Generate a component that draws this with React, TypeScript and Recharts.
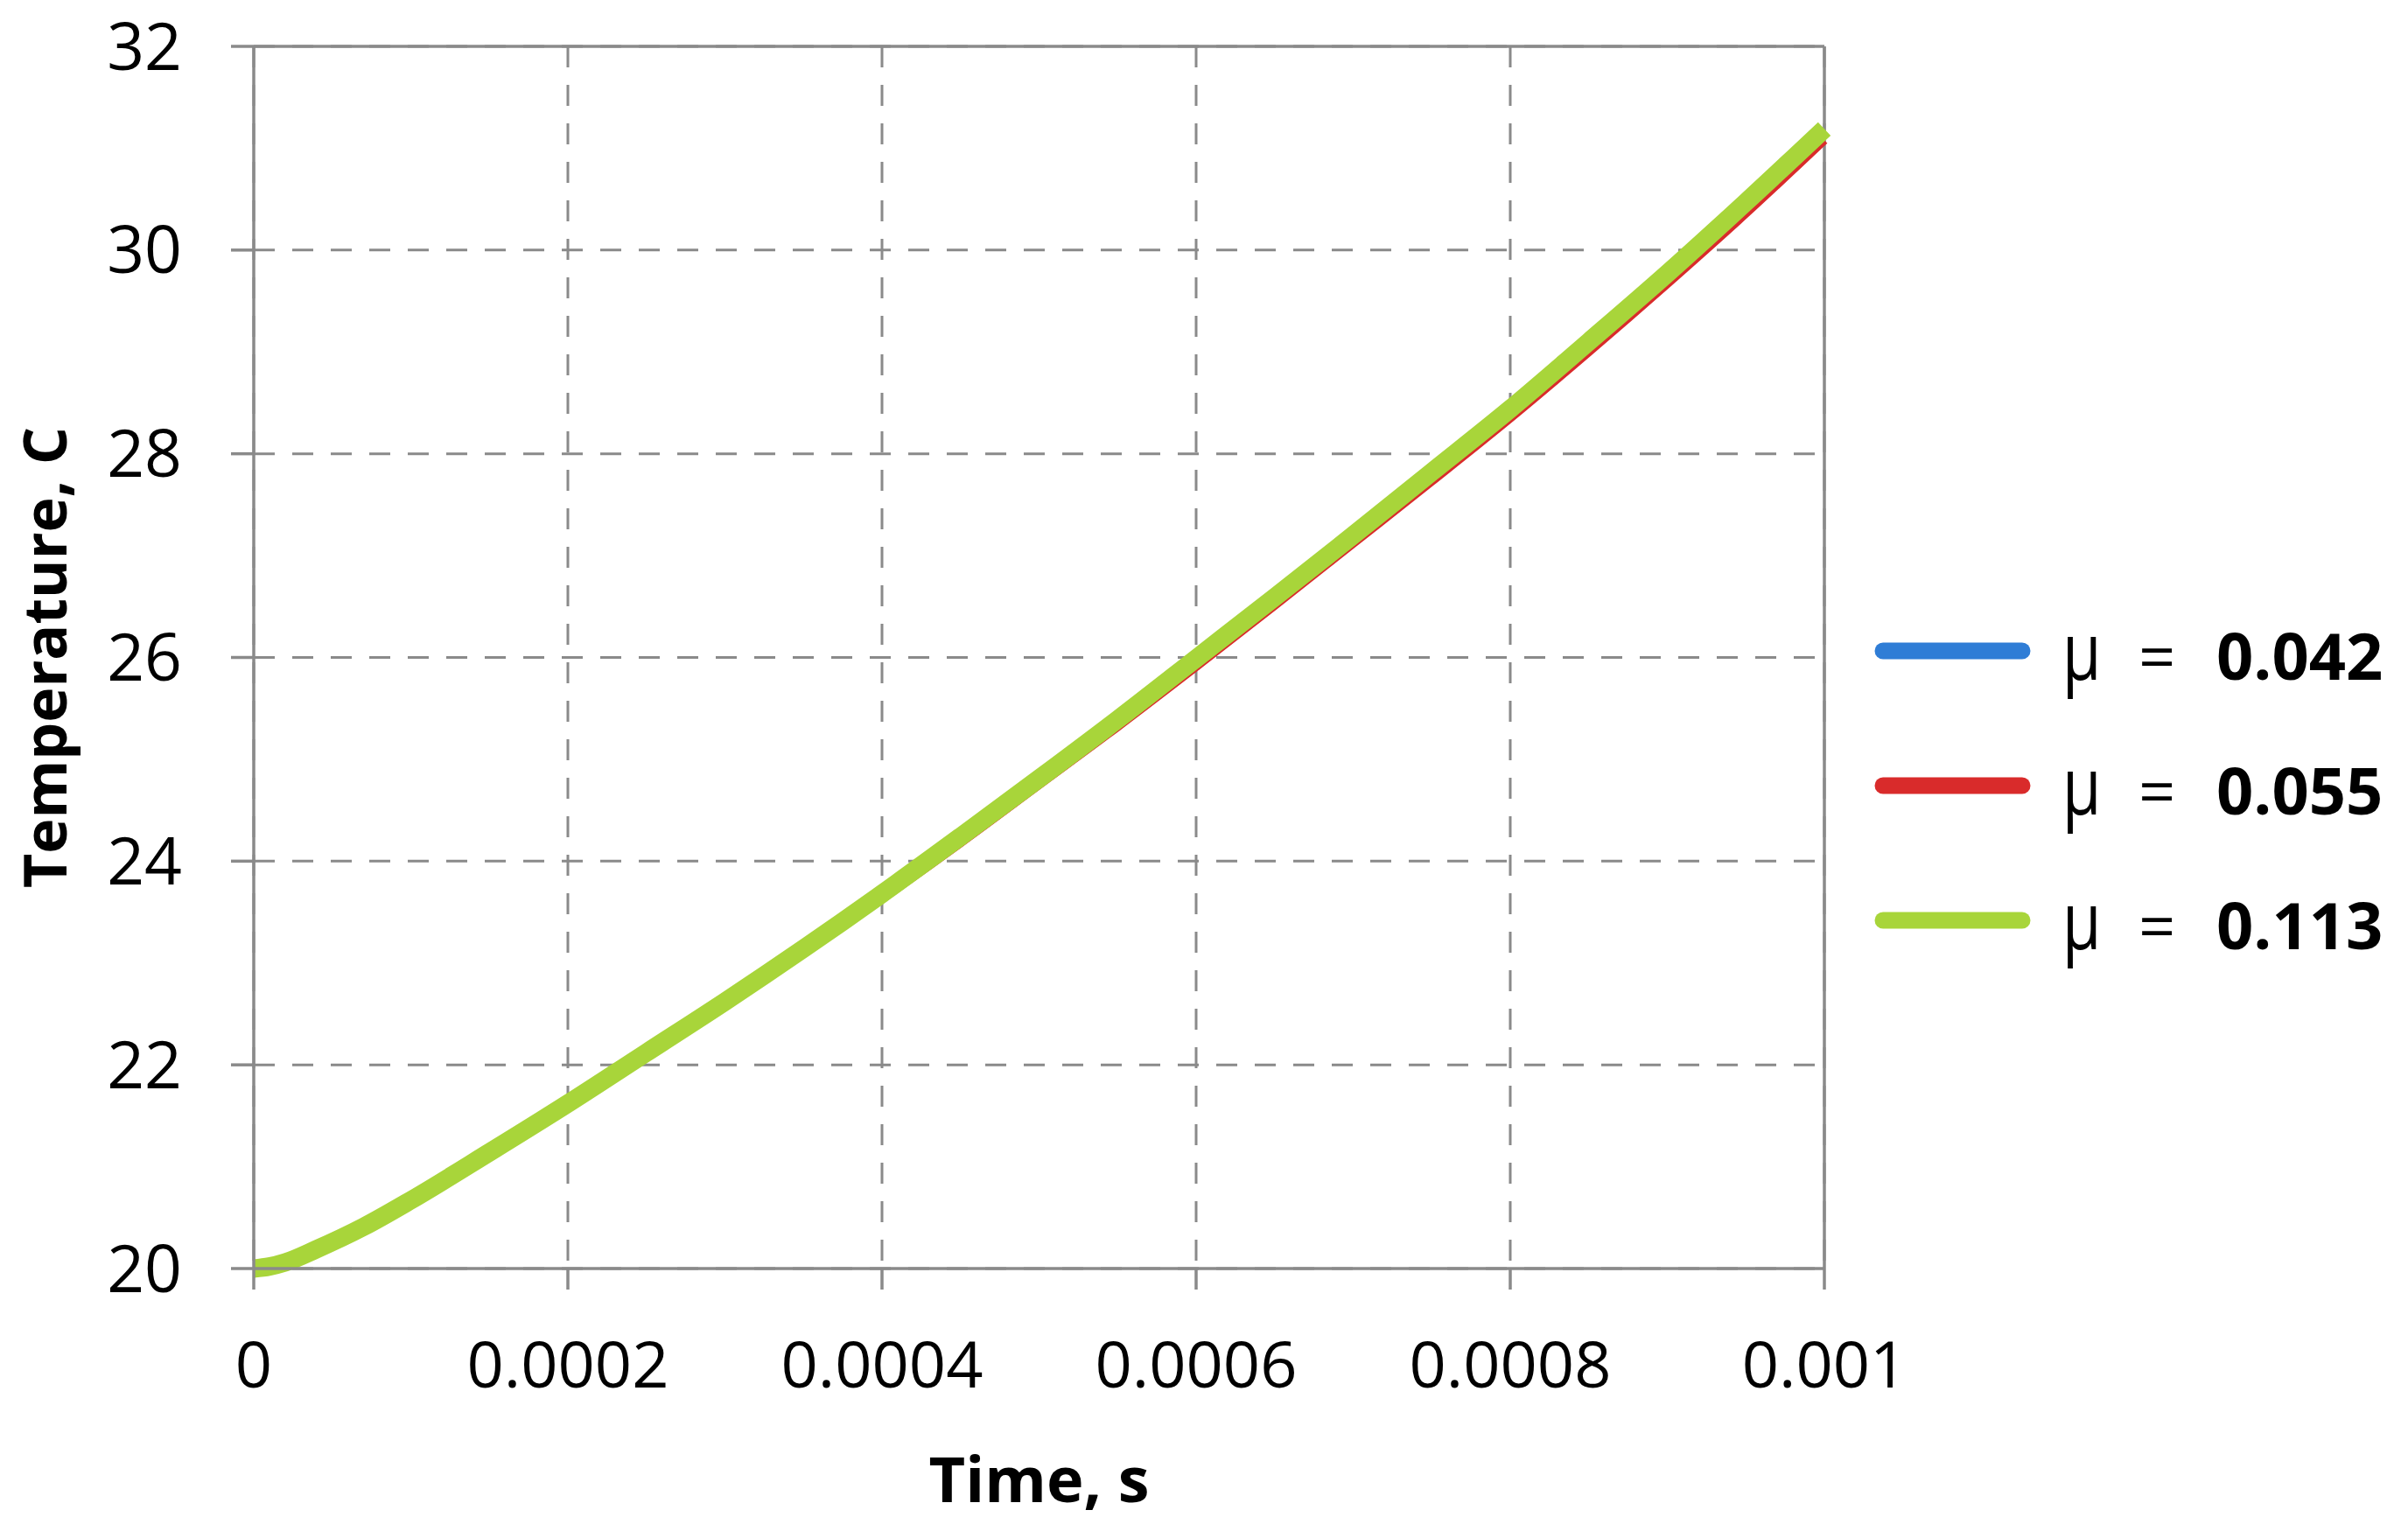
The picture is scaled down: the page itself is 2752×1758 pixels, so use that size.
import {
  CartesianGrid,
  Legend,
  Line,
  LineChart,
  ReferenceLine,
  XAxis,
  YAxis,
} from "recharts";

// time, s
const time = [
  0, 0.00001, 0.00002, 0.00004, 0.00007, 0.0001, 0.00015, 0.0002, 0.00025,
  0.0003, 0.00035, 0.0004, 0.00045, 0.0005, 0.00055, 0.0006, 0.00065, 0.0007,
  0.00075, 0.0008, 0.00085, 0.0009, 0.00095, 0.001,
];

// temperature, C for each friction coefficient
const tempMu042 = [
  20.0, 20.02, 20.06, 20.19, 20.41, 20.67, 21.14, 21.62, 22.11, 22.61, 23.12,
  23.66, 24.21, 24.78, 25.36, 25.95, 26.55, 27.16, 27.78, 28.4, 29.05, 29.72,
  30.42, 31.14,
];
const tempMu055 = [
  20.0, 20.02, 20.06, 20.19, 20.41, 20.66, 21.13, 21.61, 22.1, 22.59, 23.1,
  23.63, 24.18, 24.75, 25.32, 25.91, 26.51, 27.12, 27.73, 28.35, 29.0, 29.67,
  30.36, 31.08,
];
const tempMu113 = [
  20.0, 20.02, 20.06, 20.19, 20.41, 20.67, 21.14, 21.62, 22.12, 22.62, 23.14,
  23.68, 24.24, 24.81, 25.39, 25.99, 26.59, 27.2, 27.82, 28.44, 29.1, 29.77,
  30.47, 31.19,
];

const muLabels = ["0.042", "0.055", "0.113"];
const xTicks = [0, 0.0002, 0.0004, 0.0006, 0.0008, 0.001];
const yTicks = [20, 22, 24, 26, 28, 30, 32];

const COLORS = ["#2f7dd6", "#d92b2b", "#a8d53a"];
const GRID = "#8a8a8a";
const FONT = "'Open Sans', 'Noto Sans', sans-serif";

const data = time.map((t, i) => ({
  t,
  a: tempMu042[i],
  b: tempMu055[i],
  c: tempMu113[i],
}));

function renderLegend() {
  return (
    <svg width={620} height={500} style={{ display: "block", overflow: "visible" }}>
      {muLabels.map((mu, i) => {
        const y = 104 + i * 154;
        return (
          <g key={mu}>
            <line
              x1={22}
              x2={181}
              y1={y}
              y2={y}
              stroke={COLORS[i]}
              strokeWidth={19}
              strokeLinecap="round"
            />
            <text
              x={227 / 0.78}
              y={y + 33}
              transform="scale(0.78 1)"
              fontFamily={FONT}
              fontSize={92}
              fill="#000"
            >
              μ
            </text>
            <text x={314} y={y + 33} fontFamily={FONT} fontSize={74} fill="#000">
              =
            </text>
            <text
              x={403}
              y={y + 33}
              fontFamily={FONT}
              fontSize={74}
              fontWeight={700}
              fill="#000"
            >
              {mu}
            </text>
          </g>
        );
      })}
    </svg>
  );
}

export default function App() {
  return (
    <div style={{ width: 2752, height: 1758, background: "#fff" }}>
      <style>{"body{margin:0}"}</style>
      <LineChart
        width={2752}
        height={1758}
        data={data}
        margin={{ top: 53, right: 667, left: 0, bottom: 0 }}
      >
        <CartesianGrid stroke={GRID} strokeWidth={3} strokeDasharray="24 20" />
        <ReferenceLine y={32} stroke={GRID} strokeWidth={3.5} />
        <ReferenceLine x={0.001} stroke={GRID} strokeWidth={3.5} />
        <XAxis
          type="number"
          dataKey="t"
          domain={[0, 0.001]}
          ticks={xTicks}
          tickFormatter={(v) => String(v)}
          height={308}
          tickSize={24}
          tickMargin={59}
          stroke={GRID}
          strokeWidth={3.5}
          tick={{ fill: "#000", fontSize: 74, fontFamily: FONT }}
          label={{
            value: "Time, s",
            position: "insideBottom",
            offset: 41,
            fill: "#000",
            fontSize: 72,
            fontWeight: 700,
            fontFamily: FONT,
          }}
        />
        <YAxis
          type="number"
          domain={[20, 32]}
          ticks={yTicks}
          width={290}
          tickSize={26}
          tickMargin={56}
          stroke={GRID}
          strokeWidth={3.5}
          tick={{ fill: "#000", fontSize: 75, fontFamily: FONT }}
          label={{
            value: "Temperature, C",
            angle: -90,
            position: "insideLeft",
            offset: 52,
            fill: "#000",
            fontSize: 68,
            fontWeight: 700,
            fontFamily: FONT,
            style: { textAnchor: "middle" },
          }}
        />
        <Legend
          layout="vertical"
          align="center"
          verticalAlign="middle"
          content={renderLegend}
          wrapperStyle={{ left: 2130, top: 640, width: 620, height: 500 }}
        />
        <Line
          type="monotone"
          dataKey="a"
          name="μ = 0.042"
          stroke={COLORS[0]}
          strokeWidth={10}
          dot={false}
          isAnimationActive={false}
        />
        <Line
          type="monotone"
          dataKey="b"
          name="μ = 0.055"
          stroke={COLORS[1]}
          strokeWidth={10}
          dot={false}
          isAnimationActive={false}
        />
        <Line
          type="monotone"
          dataKey="c"
          name="μ = 0.113"
          stroke={COLORS[2]}
          strokeWidth={21}
          dot={false}
          isAnimationActive={false}
        />
      </LineChart>
    </div>
  );
}
